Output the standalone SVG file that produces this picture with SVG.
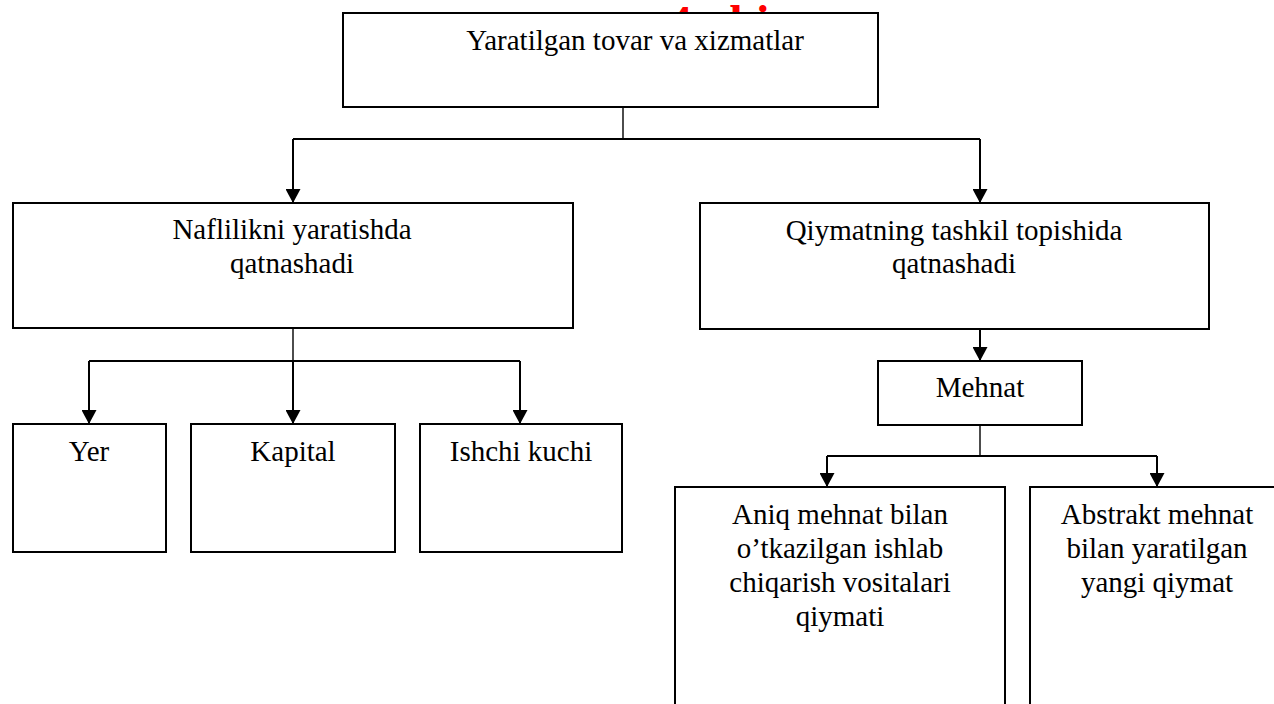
<svg xmlns="http://www.w3.org/2000/svg" width="1274" height="704" viewBox="0 0 1274 704">
  <style>
    .box { fill: #ffffff; stroke: #000000; stroke-width: 2; }
    .lbl { font-family: "Liberation Serif", "Times New Roman", serif; font-size: 29px; fill: #000000; text-anchor: middle; }
    .wire { fill: none; stroke: #000000; stroke-width: 2; }
    .stem { fill: none; stroke: #000000; stroke-width: 1.4; }
    .red { font-family: "Liberation Serif", "Times New Roman", serif; font-size: 48px; font-weight: bold; fill: #ff0000; }
  </style>
  <defs>
    <marker id="arr" viewBox="0 0 14 15" refX="14" refY="7.5" markerWidth="14" markerHeight="15" markerUnits="userSpaceOnUse" orient="auto">
      <path d="M0,0 L14,7.5 L0,15 z" fill="#000000"/>
    </marker>
  </defs>
  <rect width="1274" height="704" fill="#ffffff"/>

  <text class="red" x="668" y="39">4-chizma</text>

  <g id="connectors">
    <path class="stem" d="M623,107 V139"/>
    <path class="wire" d="M293,139 H980"/>
    <path class="wire" d="M293,139 V203" marker-end="url(#arr)"/>
    <path class="wire" d="M980,139 V203" marker-end="url(#arr)"/>

    <path class="stem" d="M293,328 V361"/>
    <path class="wire" d="M89,361 H520"/>
    <path class="wire" d="M89,361 V424" marker-end="url(#arr)"/>
    <path class="wire" d="M293,361 V424" marker-end="url(#arr)"/>
    <path class="wire" d="M520,361 V424" marker-end="url(#arr)"/>

    <path class="wire" d="M980,329 V361" marker-end="url(#arr)"/>
    <path class="stem" d="M980,425 V456"/>
    <path class="wire" d="M827,456 H1157"/>
    <path class="wire" d="M827,456 V487" marker-end="url(#arr)"/>
    <path class="wire" d="M1157,456 V487" marker-end="url(#arr)"/>
  </g>

  <g id="top">
    <rect class="box" x="343" y="13" width="535" height="94"/>
    <text class="lbl" x="635" y="50">Yaratilgan tovar va xizmatlar</text>
  </g>

  <g id="naflilik">
    <rect class="box" x="13" y="203" width="560" height="125"/>
    <text class="lbl" x="292" y="239">Naflilikni yaratishda</text>
    <text class="lbl" x="292" y="273">qatnashadi</text>
  </g>

  <g id="qiymat">
    <rect class="box" x="700" y="203" width="509" height="126"/>
    <text class="lbl" x="954" y="240">Qiymatning tashkil topishida</text>
    <text class="lbl" x="954" y="273">qatnashadi</text>
  </g>

  <g id="yer">
    <rect class="box" x="13" y="424" width="153" height="128"/>
    <text class="lbl" x="89" y="461">Yer</text>
  </g>

  <g id="kapital">
    <rect class="box" x="191" y="424" width="204" height="128"/>
    <text class="lbl" x="293" y="461">Kapital</text>
  </g>

  <g id="ishchi">
    <rect class="box" x="420" y="424" width="202" height="128"/>
    <text class="lbl" x="521" y="461">Ishchi kuchi</text>
  </g>

  <g id="mehnat">
    <rect class="box" x="878" y="361" width="204" height="64"/>
    <text class="lbl" x="980" y="397">Mehnat</text>
  </g>

  <g id="aniq">
    <rect class="box" x="675" y="487" width="330" height="240"/>
    <text class="lbl" x="840" y="524">Aniq mehnat bilan</text>
    <text class="lbl" x="840" y="558">o’tkazilgan ishlab</text>
    <text class="lbl" x="840" y="592">chiqarish vositalari</text>
    <text class="lbl" x="840" y="626">qiymati</text>
  </g>

  <g id="abstrakt">
    <rect class="box" x="1030" y="487" width="260" height="240"/>
    <text class="lbl" x="1157" y="524">Abstrakt mehnat</text>
    <text class="lbl" x="1157" y="558">bilan yaratilgan</text>
    <text class="lbl" x="1157" y="592">yangi qiymat</text>
  </g>
</svg>
